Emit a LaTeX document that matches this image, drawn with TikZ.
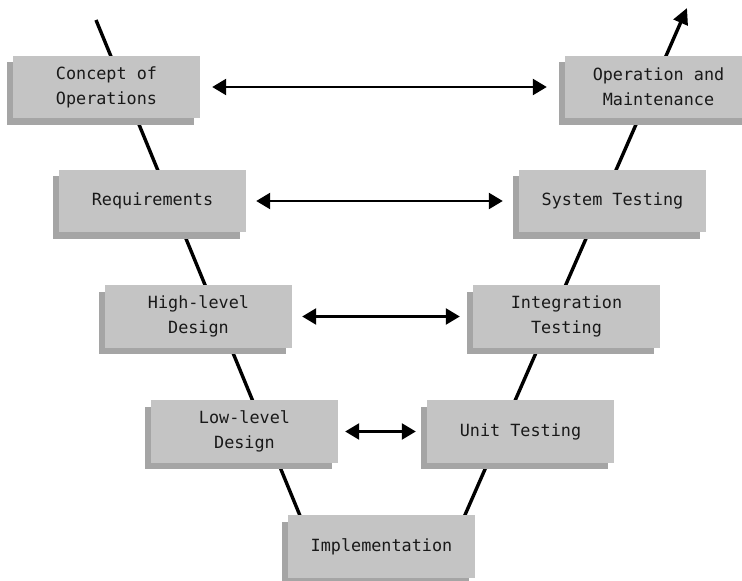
\documentclass[tikz,border=0pt]{standalone}
\usepackage{fontspec}
\setmonofont{DejaVu Sans Mono}
\usetikzlibrary{arrows.meta,shadows}
\definecolor{boxgray}{RGB}{196,196,196}
\definecolor{shadowgray}{RGB}{165,165,165}
\definecolor{textdark}{RGB}{25,25,25}
\tikzset{
  phase/.style={fill=boxgray, minimum width=187pt, minimum height=62.5pt,
    inner sep=0pt, align=center, text=textdark,
    font=\ttfamily\fontsize{16.8}{25}\selectfont,
    drop shadow={shadow xshift=-6.5pt, shadow yshift=-6.5pt, fill=shadowgray, opacity=1}},
  vline/.style={line width=3.4pt},
  link/.style={line width=2.6pt, {Triangle[length=14pt,width=16pt]}-{Triangle[length=14pt,width=16pt]}}
}
\begin{document}
\begin{tikzpicture}[x=1pt,y=-1pt]
\useasboundingbox (0,0) rectangle (742,581);
% V lines (behind boxes)
\coordinate (vtl) at (96,20);
\coordinate (vbl) at (310,540);
\coordinate (vbr) at (454,540);
\coordinate (vtr) at (687,8);
\draw[vline] (vtl) -- (vbl);
\draw[vline, -{Triangle[length=16pt,width=15pt]}] (vbr) -- (vtr);
% boxes
\node[phase] (con) at (106.5,87) {Concept of\\Operations};
\node[phase] (opm) at (658.5,87) {Operation and\\Maintenance};
\node[phase] (req) at (152.5,201) {Requirements};
\node[phase] (sys) at (612.5,201) {System Testing};
\node[phase] (hld) at (198.5,316.5) {High-level\\Design};
\node[phase] (itg) at (566.5,316.5) {Integration\\Testing};
\node[phase] (lld) at (244.5,431.5) {Low-level\\Design};
\node[phase] (unt) at (520.5,431.5) {Unit Testing};
\node[phase] (imp) at (381.5,546.5) {Implementation};
% horizontal links
\draw[link, shorten <=12pt, shorten >=18pt] (con.east) -- (opm.west);
\draw[link, shorten <=10pt, shorten >=16pt] (req.east) -- (sys.west);
\draw[link, shorten <=10pt, shorten >=13pt] (hld.east) -- (itg.west);
\draw[link, shorten <=7pt, shorten >=11pt] (lld.east) -- (unt.west);
\end{tikzpicture}
\end{document}
